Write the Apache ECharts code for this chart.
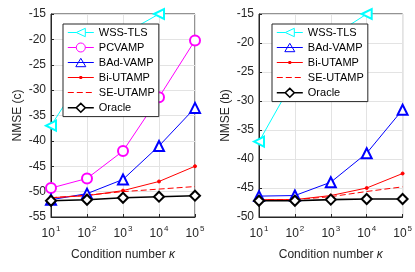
<!DOCTYPE html>
<html><head><meta charset="utf-8">
<script src="https://cdn.jsdelivr.net/npm/echarts@6/dist/echarts.min.js"></script>
<style>html,body{margin:0;padding:0;background:#fff}#c{width:415px;height:272px}</style>
</head><body><div id="c"></div>
<script>
const kappa = [10, 100, 1000, 10000, 100000];
// Left panel (c)
const wssC = [-37, -26, -19, -15, null];
const pcvampC = [-49.3, -47.4, -42.0, -31.4, -20.2];
const badC = [-51.6, -50.4, -47.6, -41.0, -33.5];
const biC = [-51.2, -50.8, -49.8, -48.0, -45.0];
const seC = [-51.2, -50.7, -50.0, -49.5, -49.0];
const oracleC = [-51.8, -51.6, -51.2, -51.0, -50.8];
// Right panel (b)
const wssB = [-37, -26, -19, -15, null];
const badB = [-46.4, -46.3, -44.0, -39.0, -31.5];
const biB = [-47.0, -47.0, -46.3, -45.0, -42.5];
const seB = [-47.0, -47.0, -46.5, -45.6, -44.8];
const oracleB = [-47.2, -47.2, -47.0, -46.9, -46.9];

const FONT = 'Liberation Sans';
const pairs = a => a.map((v, i) => v === null ? null : [kappa[i], v]).filter(p => p);

const B = 'M0,0M26,10';
const styles = {
  'WSS-TLS': {color: '#00ffff', symbol: 'emptyTriangle', symbolRotate: 90, symbolSize: 10, lw: 1, type: 'solid',
    icon: 'path://' + B + 'M0,5L8.5,5M17.5,5L26,5M8.5,5L17.5,0.8L17.5,9.2Z', fill: 'transparent', bw: 1},
  'PCVAMP': {color: '#ff00ff', symbol: 'emptyCircle', symbolRotate: 0, symbolSize: 10, lw: 1, type: 'solid',
    icon: 'path://' + B + 'M0,5L8.5,5M17.5,5L26,5M8.5,5A4.5,4.5,0,1,1,17.5,5A4.5,4.5,0,1,1,8.5,5Z', fill: 'transparent', bw: 1},
  'BAd-VAMP': {color: '#0000ff', symbol: 'emptyTriangle', symbolRotate: 0, symbolSize: 10, lw: 1, type: 'solid',
    icon: 'path://' + B + 'M0,5L26,5M8,9.2L13,0.8L18,9.2Z', fill: 'transparent', bw: 1},
  'Bi-UTAMP': {color: '#ff0000', symbol: 'circle', symbolRotate: 0, symbolSize: 3, lw: 1, type: 'solid',
    icon: 'path://' + B + 'M0,5L26,5M12,4L14,4L14,6L12,6Z', fill: '#ff0000', bw: 1},
  'SE-UTAMP': {color: '#ff0000', symbol: 'none', symbolRotate: 0, symbolSize: 0, lw: 1, type: [6, 3],
    icon: 'path://' + B + 'M0,5L6,5M9,5L15,5M18,5L24,5', fill: 'transparent', bw: 1},
  'Oracle': {color: '#000000', symbol: 'emptyDiamond', symbolRotate: 0, symbolSize: 10, lw: 1.6, type: 'solid',
    icon: 'path://' + B + 'M0,5L8.5,5M17.5,5L26,5M13,0.6L17.5,5L13,9.4L8.5,5Z', fill: 'transparent', bw: 1.6}
};
function mk(name, data, idx) {
  const s = styles[name];
  return {
    name, type: 'line', xAxisIndex: idx, yAxisIndex: idx, data: pairs(data),
    symbol: s.symbol, symbolSize: s.symbolSize, symbolRotate: s.symbolRotate,
    showSymbol: s.symbol !== 'none',
    lineStyle: {color: s.color, width: s.lw, type: s.type},
    itemStyle: {color: s.color, borderColor: s.color, borderWidth: name === 'Oracle' ? 1.5 : 1},
    emphasis: {disabled: true}, animation: false, z: name === 'Oracle' ? 5 : 3
  };
}
function xAx(idx) {
  return {
    type: 'log', logBase: 10, min: 10, max: 100000, gridIndex: idx,
    name: 'Condition number {k|κ}', nameLocation: 'middle', nameGap: 32,
    nameTextStyle: {fontFamily: FONT, fontSize: 12, color: '#262626', rich: {k: {fontFamily: FONT, fontSize: 12, fontStyle: 'italic', color: '#262626'}}},
    axisLine: {show: true, lineStyle: {color: '#262626', width: 1}},
    axisTick: {show: true, inside: true, length: 3, lineStyle: {color: '#262626'}},
    splitLine: {show: true, lineStyle: {color: '#e3e3e3', width: 1}},
    minorTick: {show: false},
    axisLabel: {
      fontFamily: FONT, fontSize: 12, color: '#262626', margin: 8,
      formatter: v => '{b|10}{s|' + Math.round(Math.log10(v)) + '}',
      rich: {b: {fontFamily: FONT, fontSize: 12, color: '#262626'}, s: {fontFamily: FONT, fontSize: 8, color: '#262626', padding: [0, 0, 9, 1]}}
    }
  };
}
function yAx(idx, min, name) {
  return {
    type: 'value', min: min, max: -15, interval: 5, gridIndex: idx,
    name: name, nameLocation: 'middle', nameGap: 27,
    nameTextStyle: {fontFamily: FONT, fontSize: 12, color: '#262626'},
    axisLine: {show: true, lineStyle: {color: '#262626', width: 1}},
    axisTick: {show: true, inside: true, length: 3, lineStyle: {color: '#262626'}},
    splitLine: {show: true, lineStyle: {color: '#e3e3e3', width: 1}},
    axisLabel: {fontFamily: FONT, fontSize: 12, color: '#262626', margin: 5}
  };
}
function leg(names, left) {
  return {
    data: names.map(n => ({
      name: n, icon: styles[n].icon,
      itemStyle: {color: styles[n].fill, borderColor: styles[n].color, borderWidth: styles[n].bw, borderType: 'solid', opacity: 1}
    })),
    left: left, top: 24, orient: 'vertical',
    backgroundColor: '#ffffff', borderColor: '#262626', borderWidth: 1, borderRadius: 0,
    padding: [3, 4, 3, 4], itemGap: 4, itemWidth: 26, itemHeight: 10,
    textStyle: {fontFamily: FONT, fontSize: 11, color: '#000'},
    selectedMode: false, z: 10
  };
}
const chart = echarts.init(document.getElementById('c'), null, {renderer: 'canvas'});
chart.setOption({
  animation: false,
  backgroundColor: '#ffffff',
  grid: [
    {left: 51, right: 220, top: 14, bottom: 55, show: true, borderColor: '#262626', borderWidth: 1, backgroundColor: 'transparent'},
    {left: 259, right: 12, top: 14, bottom: 55, show: true, borderColor: '#262626', borderWidth: 1, backgroundColor: 'transparent'}
  ],
  xAxis: [xAx(0), xAx(1)],
  yAxis: [yAx(0, -55, 'NMSE (c)'), yAx(1, -50, 'NMSE (b)')],
  legend: [
    leg(['WSS-TLS', 'PCVAMP', 'BAd-VAMP', 'Bi-UTAMP', 'SE-UTAMP', 'Oracle'], 63),
    leg(['WSS-TLS', 'BAd-VAMP', 'Bi-UTAMP', 'SE-UTAMP', 'Oracle'], 272)
  ],
  series: [
    mk('WSS-TLS', wssC, 0), mk('PCVAMP', pcvampC, 0), mk('BAd-VAMP', badC, 0),
    mk('Bi-UTAMP', biC, 0), mk('SE-UTAMP', seC, 0), mk('Oracle', oracleC, 0),
    mk('WSS-TLS', wssB, 1), mk('BAd-VAMP', badB, 1),
    mk('Bi-UTAMP', biB, 1), mk('SE-UTAMP', seB, 1), mk('Oracle', oracleB, 1)
  ]
});
</script></body></html>
